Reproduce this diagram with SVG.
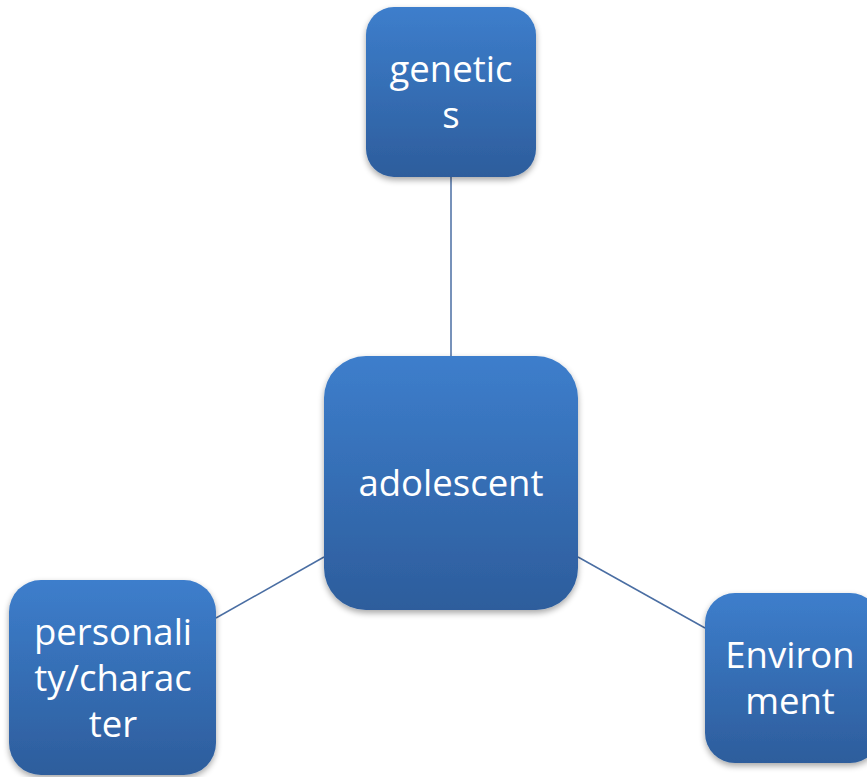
<svg xmlns="http://www.w3.org/2000/svg" width="867" height="777" viewBox="0 0 867 777">
<defs>
<linearGradient id="g" x1="0" y1="0" x2="0" y2="1">
<stop offset="0" stop-color="#3d7ecc"/>
<stop offset="1" stop-color="#2d5d9c"/>
</linearGradient>
<filter id="sh" x="-10%" y="-10%" width="120%" height="125%">
<feGaussianBlur in="SourceAlpha" stdDeviation="3"/>
<feOffset dx="0" dy="3"/>
<feComponentTransfer><feFuncA type="linear" slope="0.35"/></feComponentTransfer>
<feMerge><feMergeNode/><feMergeNode in="SourceGraphic"/></feMerge>
</filter>
</defs>
<style>
.box{fill:url(#g);filter:url(#sh);}
.t{font-family:"Open Sans","Noto Sans","Liberation Sans",sans-serif;font-size:36.5px;fill:#ffffff;text-anchor:middle;}
.c{stroke:#4a6ea3;stroke-width:1.5;fill:none;}
</style>
<rect width="867" height="777" fill="#ffffff"/>
<g id="connectors">
<line class="c" x1="451" y1="177" x2="451" y2="356"/>
<line class="c" x1="324" y1="557" x2="216" y2="618"/>
<line class="c" x1="578" y1="557" x2="705" y2="628"/>
</g>
<g id="genetics">
<rect class="box" x="366" y="7" width="170" height="170" rx="28"/>
<text class="t" x="451" y="82">genetic</text>
<text class="t" x="451" y="128">s</text>
</g>
<g id="adolescent">
<rect class="box" x="324" y="356" width="254" height="254" rx="42"/>
<text class="t" x="451" y="496">adolescent</text>
</g>
<g id="personality">
<rect class="box" x="9" y="580" width="207" height="195" rx="32"/>
<text class="t" x="113" y="645">personali</text>
<text class="t" x="113" y="691">ty/charac</text>
<text class="t" x="113" y="737">ter</text>
</g>
<g id="environment">
<rect class="box" x="705" y="593" width="175" height="170" rx="30"/>
<text class="t" x="790" y="668">Environ</text>
<text class="t" x="790" y="714">ment</text>
</g>
</svg>
